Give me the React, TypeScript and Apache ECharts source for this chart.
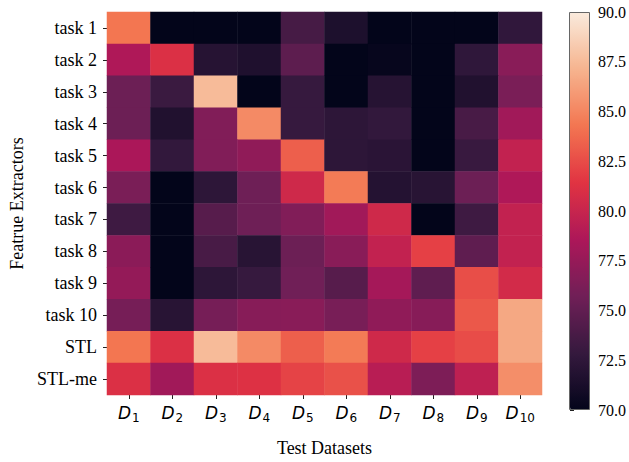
import React, { useEffect, useRef } from "react";
import * as echarts from "echarts";

const rowLabels = ["task 1", "task 2", "task 3", "task 4", "task 5", "task 6", "task 7", "task 8", "task 9", "task 10", "STL", "STL-me"];
const colIndices = ["1", "2", "3", "4", "5", "6", "7", "8", "9", "10"];

const task1 = [84.3, 69, 69, 69, 73.7, 71.5, 69.5, 69, 70, 72.6];
const task2 = [78.7, 81.1, 72.0, 71.6, 74.8, 70, 70.2, 70, 72.5, 76.9];
const task3 = [75.5, 73.1, 87.5, 70, 72.9, 70, 72.0, 70, 71.7, 76.2];
const task4 = [75.5, 71.7, 76.5, 85.2, 72.9, 72.4, 72.7, 70, 73.8, 78.0];
const task5 = [78.5, 72.7, 76.5, 77.2, 83.3, 72.4, 72.2, 70, 73.0, 79.7];
const task6 = [76.2, 70, 72.4, 75.6, 80.4, 84.5, 71.9, 72.1, 75.5, 78.7];
const task7 = [73.3, 70, 74.5, 75.6, 76.5, 78.0, 80.4, 69.5, 73.3, 79.7];
const task8 = [77.0, 70, 73.8, 72.1, 75.5, 76.9, 79.7, 82.0, 74.9, 79.7];
const task9 = [77.4, 70, 72.4, 72.9, 75.7, 74.5, 78.2, 74.9, 82.6, 80.6];
const task10 = [76.0, 72.1, 76.0, 76.8, 76.9, 76.1, 77.2, 76.8, 83.0, 86.6];
const stl = [84.3, 81.1, 87.5, 85.2, 83.3, 84.5, 80.4, 82.0, 82.5, 86.6];
const stlMe = [81.1, 78.0, 81.1, 81.2, 82.1, 82.7, 79.2, 76.3, 79.5, 85.4];

const rows = [task1, task2, task3, task4, task5, task6, task7, task8, task9, task10, stl, stlMe];

const rocket = ["#03051a", "#35193e", "#701f57", "#ad1759", "#e13342", "#f37651", "#f6b48f", "#faebdd"];

const colorbarTicks = { min: 70, max: 90, interval: 2.5 };

export default function App() {
  const ref = useRef<HTMLDivElement>(null);
  useEffect(() => {
    if (!ref.current) return;
    const chart = echarts.init(ref.current, undefined, { renderer: "svg" });
    const data: [number, number, number][] = [];
    rows.forEach((r, yi) => r.forEach((v, xi) => data.push([xi, yi, v])));
    const serif = "'Liberation Serif', 'Times New Roman', serif";
    chart.setOption({
      animation: false,
      backgroundColor: "#fff",
      grid: [
        { left: 107, top: 12, width: 435, height: 398 },
        { left: 570, top: 12, width: 20, height: 398 },
      ],
      xAxis: [
        {
          type: "category",
          gridIndex: 0,
          data: colIndices,
          axisLine: { show: false },
          axisTick: { show: true, alignWithLabel: true, interval: 0, length: 4, lineStyle: { color: "#222" } },
          axisLabel: {
            interval: 0,
            margin: 7,
            formatter: (v: string) => `{d|D}{s|${v}}`,
            rich: {
              d: { fontFamily: "'DejaVu Sans'", fontStyle: "italic", fontSize: 17, color: "#000" },
              s: { fontFamily: "'DejaVu Sans'", fontSize: 12, color: "#000", padding: [10, 0, 0, 1] },
            },
          },
          splitLine: { show: false },
          name: "Test Datasets",
          nameLocation: "middle",
          nameGap: 44,
          nameTextStyle: { fontFamily: serif, fontSize: 18, color: "#000" },
        },
        { type: "value", gridIndex: 1, show: false, min: 0, max: 1 },
      ],
      yAxis: [
        {
          type: "category",
          gridIndex: 0,
          data: rowLabels,
          inverse: true,
          axisLine: { show: false },
          axisTick: { show: true, alignWithLabel: true, interval: 0, length: 4, lineStyle: { color: "#222" } },
          axisLabel: { interval: 0, fontFamily: serif, fontSize: 18, color: "#000", margin: 10 },
          splitLine: { show: false },
          name: "Featrue Extractors",
          nameLocation: "middle",
          nameRotate: 90,
          nameGap: 76,
          nameTextStyle: { fontFamily: serif, fontSize: 18, color: "#000" },
        },
        {
          type: "value",
          gridIndex: 1,
          position: "right",
          min: colorbarTicks.min,
          max: colorbarTicks.max,
          interval: colorbarTicks.interval,
          axisLine: { show: false },
          axisTick: { show: true, length: 4, lineStyle: { color: "#222" } },
          axisLabel: {
            fontFamily: serif,
            fontSize: 16,
            color: "#000",
            margin: 8,
            formatter: (v: number) => v.toFixed(1),
          },
          splitLine: { show: false },
        },
      ],
      visualMap: {
        type: "continuous",
        min: 70,
        max: 90,
        calculable: false,
        seriesIndex: 0,
        left: 570,
        top: 12,
        itemWidth: 20,
        itemHeight: 398,
        padding: 0,
        text: null,
        inRange: { color: rocket },
        hoverLink: false,
      },
      graphic: [
        {
          type: "rect",
          z: 100,
          shape: { x: 569.5, y: 12.5, width: 20, height: 397 },
          style: { fill: "none", stroke: "#666", lineWidth: 1 },
          silent: true,
        },
      ],
      series: [
        {
          type: "heatmap",
          xAxisIndex: 0,
          yAxisIndex: 0,
          data,
          itemStyle: { borderWidth: 0 },
          emphasis: { disabled: true },
          label: { show: false },
        },
      ],
    });
    return () => chart.dispose();
  }, []);
  return <div ref={ref} style={{ width: 629, height: 462, position: "absolute", left: 0, top: 0 }} />;
}
